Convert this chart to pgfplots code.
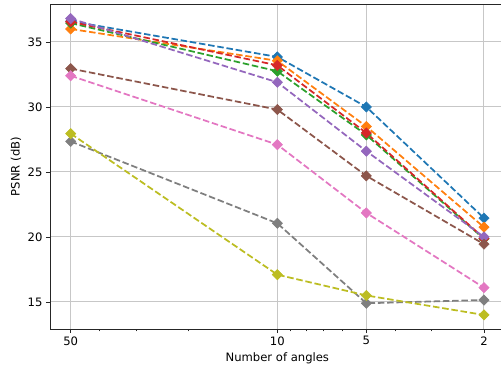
\documentclass[border=0pt]{standalone}
\usepackage{fontspec}
\setmainfont{DejaVu Sans}
\usepackage{pgfplots}
\pgfplotsset{compat=1.18}
\definecolor{c0}{HTML}{1F77B4}
\definecolor{c1}{HTML}{FF7F0E}
\definecolor{c2}{HTML}{2CA02C}
\definecolor{c3}{HTML}{D62728}
\definecolor{c4}{HTML}{9467BD}
\definecolor{c5}{HTML}{8C564B}
\definecolor{c6}{HTML}{E377C2}
\definecolor{c7}{HTML}{7F7F7F}
\definecolor{c8}{HTML}{BCBD22}
\pgfplotsset{
  ser/.style={color=#1, line width=1.75pt, dash pattern=on 6.5pt off 2.8pt,
    mark=square*, mark size=3.6pt, mark options={solid, rotate=45, fill=#1, line width=0.6pt}},
}
\begin{document}
\begin{tikzpicture}
\begin{axis}[name=ax, scale only axis, width=454.7pt, height=325pt,
  xmode=log, x dir=reverse, xmin=1.702, xmax=58.75, ymin=12.92, ymax=37.92,
  xtick={2,5,10,50}, xticklabels={2,5,10,50},
  minor xtick={3,4,6,7,8,9,20,30,40},
  ytick={15,20,25,30,35},
  grid=major, major grid style={color=black!22, line width=1pt},
  minor grid style={draw=none},
  axis line style={black!85, line width=0.9pt},
  tick align=outside, major tick length=4pt, minor tick length=2.3pt,
  every tick/.style={black!85, line width=0.9pt},
  xtick pos=left, ytick pos=left,
  /pgf/number format/assume math mode=true,
  tick label style={font=\fontsize{11.6}{14}\selectfont},
  label style={font=\fontsize{11.6}{14}\selectfont},
  xlabel={Number of angles}, ylabel={PSNR (dB)},
  xlabel style={at={(axis description cs:0.5,0)}, anchor=base, yshift=-32.5pt},
  ylabel style={at={(axis description cs:0,0.5)}, anchor=center, yshift=34pt},
]
\addplot[ser=c0] coordinates {(50,36.6) (10,33.85) (5,30.0) (2,21.45)};
\addplot[ser=c1] coordinates {(50,36.0) (10,33.55) (5,28.5) (2,20.75)};
\addplot[ser=c2] coordinates {(50,36.45) (10,32.75) (5,27.85) (2,19.85)};
\addplot[ser=c3] coordinates {(50,36.55) (10,33.2) (5,28.0) (2,19.9)};
\addplot[ser=c4] coordinates {(50,36.8) (10,31.9) (5,26.6) (2,20.0)};
\addplot[ser=c5] coordinates {(50,32.95) (10,29.8) (5,24.7) (2,19.45)};
\addplot[ser=c6] coordinates {(50,32.4) (10,27.1) (5,21.85) (2,16.1)};
\addplot[ser=c7] coordinates {(50,27.35) (10,21.05) (5,14.9) (2,15.15)};
\addplot[ser=c8] coordinates {(50,27.95) (10,17.1) (5,15.5) (2,14.0)};
\end{axis}
\pgfresetboundingbox
\path ([shift={(-50pt,-38pt)}]ax.south west) rectangle ([shift={(451pt,329pt)}]ax.south west);
\end{tikzpicture}
\end{document}
